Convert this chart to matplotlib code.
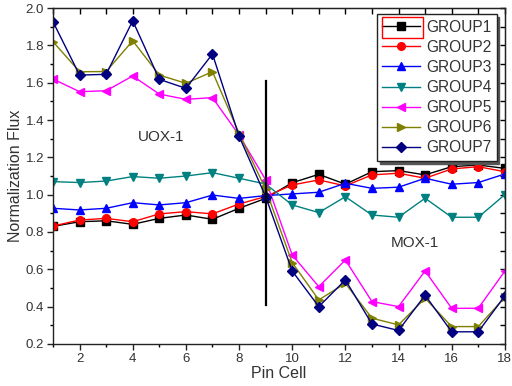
import matplotlib
matplotlib.use("Agg")
import matplotlib.pyplot as plt
from matplotlib.ticker import MultipleLocator
from matplotlib.patches import Rectangle

plt.rcParams['font.family'] = ['Liberation Sans', 'DejaVu Sans']

pins = list(range(1, 19))
group1 = [0.83, 0.855, 0.86, 0.841, 0.873, 0.891, 0.868, 0.927, 0.98,
          1.064, 1.109, 1.056, 1.123, 1.129, 1.106, 1.15, 1.159, 1.141]
group2 = [0.832, 0.864, 0.873, 0.855, 0.897, 0.909, 0.897, 0.95, 0.99,
          1.052, 1.079, 1.047, 1.106, 1.115, 1.088, 1.138, 1.15, 1.123]
group3 = [0.927, 0.918, 0.927, 0.957, 0.945, 0.957, 0.998, 0.98, 0.995,
          1.004, 1.013, 1.061, 1.034, 1.04, 1.088, 1.056, 1.065, 1.111]
group4 = [1.07, 1.065, 1.073, 1.097, 1.088, 1.10, 1.118, 1.088, 1.057,
          0.945, 0.904, 0.989, 0.891, 0.879, 0.981, 0.879, 0.879, 1.0]
group5 = [1.62, 1.552, 1.557, 1.636, 1.539, 1.511, 1.52, 1.32, 1.08,
          0.677, 0.507, 0.65, 0.427, 0.40, 0.591, 0.391, 0.391, 0.59]
group6 = [1.82, 1.659, 1.66, 1.825, 1.641, 1.597, 1.659, 1.329, 1.03,
          0.636, 0.436, 0.525, 0.338, 0.302, 0.445, 0.293, 0.293, 0.45]
group7 = [1.927, 1.641, 1.645, 1.932, 1.618, 1.57, 1.754, 1.314, 0.99,
          0.591, 0.40, 0.543, 0.307, 0.272, 0.461, 0.265, 0.265, 0.457]

labels = ['GROUP1', 'GROUP2', 'GROUP3', 'GROUP4', 'GROUP5', 'GROUP6', 'GROUP7']
colors = ['#000000', '#ff0000', '#0000ff', '#008080', '#ff00ff', '#808000', '#000080']
markers = ['s', 'o', '^', 'v', '<', '>', 'D']
series = [group1, group2, group3, group4, group5, group6, group7]

divider_x = 9
divider_y = [0.41, 1.61]

fig = plt.figure(figsize=(5.12, 3.86), dpi=100)
ax = fig.add_axes([0.1035, 0.109, 0.8825, 0.870])

for ys, lab, c, m in zip(series, labels, colors, markers):
    ax.plot(pins, ys, color=c, marker=m, markersize=5.5 if m != 'D' else 5,
            linewidth=1.0, label=lab)

ax.plot([divider_x, divider_x], divider_y, color='black', linewidth=1.6)

ax.text(5.05, 1.31, 'UOX-1', fontsize=11, color='#333333', ha='center', va='center')
ax.text(14.6, 0.74, 'MOX-1', fontsize=11, color='#333333', ha='center', va='center')

ax.set_xlim(1, 18)
ax.set_ylim(0.2, 2.0)
ax.xaxis.set_major_locator(MultipleLocator(2))
ax.xaxis.set_minor_locator(MultipleLocator(1))
ax.yaxis.set_major_locator(MultipleLocator(0.2))
ax.yaxis.set_minor_locator(MultipleLocator(0.1))
ax.yaxis.set_major_formatter(matplotlib.ticker.FormatStrFormatter('%.1f'))
ax.tick_params(which='major', direction='out', length=4.5, width=1, labelsize=9.5,
               pad=2, colors='#222222', labelcolor='#333333')
ax.tick_params(which='minor', direction='out', length=2.5, width=1)
for sp in ax.spines.values():
    sp.set_linewidth(1.0)
    sp.set_color('#222222')

sx = ax.secondary_xaxis('top')
sx.xaxis.set_major_locator(MultipleLocator(1))
sx.tick_params(direction='in', length=4, width=1, labeltop=False)
sy = ax.secondary_yaxis('right')
sy.yaxis.set_major_locator(MultipleLocator(0.1))
sy.tick_params(direction='in', length=3.5, width=1, labelright=False)

ax.set_xlabel('Pin Cell', fontsize=11.5, color='#333333', labelpad=1)
ax.set_ylabel('Normalization Flux', fontsize=11.5, color='#333333', labelpad=2)

leg = ax.legend(loc='upper right', bbox_to_anchor=(0.982, 0.982), borderaxespad=0,
                fontsize=11.2, handlelength=2.4, labelspacing=0.33,
                handletextpad=0.4, borderpad=0.35, fancybox=False, framealpha=1,
                edgecolor='#222222', shadow={'color': '#555555', 'alpha': 1})
leg.get_frame().set_linewidth(1.0)
for t in leg.get_texts():
    t.set_color('#333333')

fig.canvas.draw()
bb = leg.get_window_extent()
# red selection box around the first legend handle (as in reference)
hb = leg.get_texts()[0].get_window_extent()
inv = fig.transFigure.inverted()
x0 = bb.x0 + 5
y0 = hb.y0 - 3
w = hb.x0 - x0 - 3
hgt = hb.height + 6
(fx0, fy0) = inv.transform((x0, y0))
(fx1, fy1) = inv.transform((x0 + w, y0 + hgt))
fig.patches.append(Rectangle((fx0, fy0), fx1 - fx0, fy1 - fy0, transform=fig.transFigure,
                             fill=False, edgecolor='red', linewidth=1.0, zorder=10))

fig.savefig('out.png', dpi=100)
